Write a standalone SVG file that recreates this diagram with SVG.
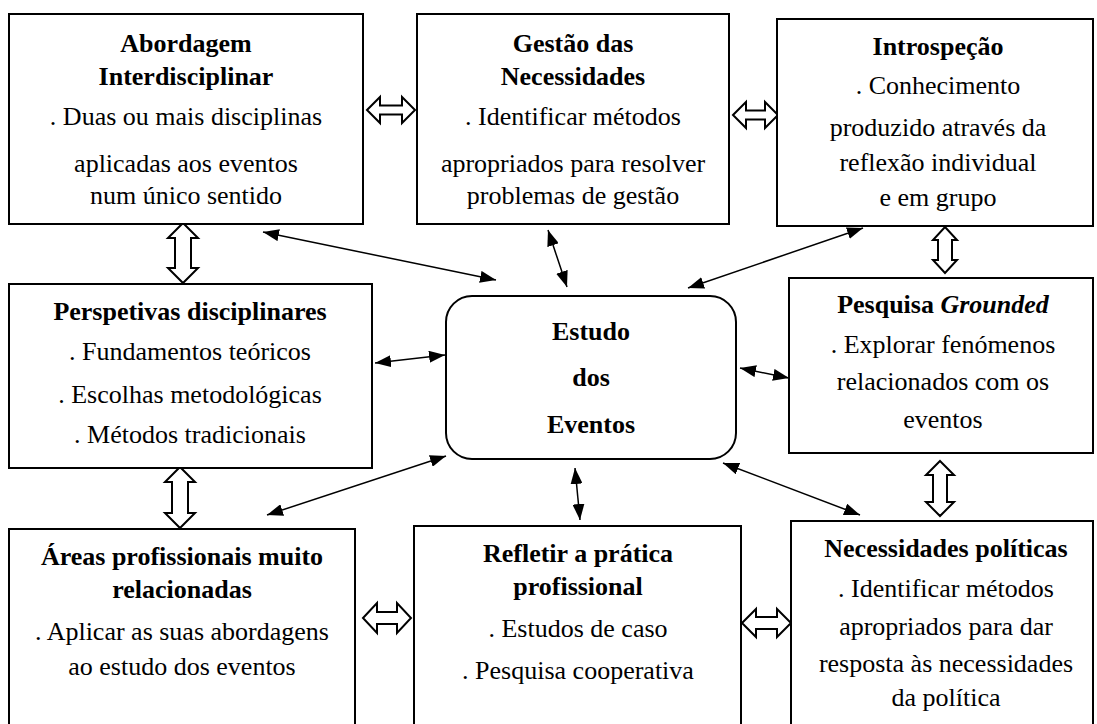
<svg xmlns="http://www.w3.org/2000/svg" width="1097" height="724" viewBox="0 0 1097 724">
<defs>
<style>
.box{fill:#fff;stroke:#000;stroke-width:2}
.blk{fill:#fff;stroke:#000;stroke-width:2;stroke-linejoin:miter}
.ln{stroke:#000;stroke-width:1.5;fill:none;marker-start:url(#ah);marker-end:url(#ah)}
</style>
<marker id="ah" viewBox="0 0 16 12" refX="16" refY="6" markerWidth="16" markerHeight="12" markerUnits="userSpaceOnUse" orient="auto-start-reverse">
<path d="M0,0 L16,6 L0,12 Z" fill="#000"/>
</marker>
</defs>
<rect width="1097" height="724" fill="#fff"/>

<g id="connectors">
<line class="ln" x1="263" y1="232" x2="496" y2="280"/>
<line class="ln" x1="548" y1="230" x2="567" y2="287"/>
<line class="ln" x1="863" y1="228" x2="688" y2="288"/>
<line class="ln" x1="375" y1="363" x2="445" y2="355"/>
<line class="ln" x1="740" y1="368" x2="789" y2="378"/>
<line class="ln" x1="267" y1="515" x2="446" y2="456"/>
<line class="ln" x1="575" y1="468" x2="580" y2="520"/>
<line class="ln" x1="723" y1="463" x2="860" y2="515"/>
<path class="blk" d="M367,110 L380,97 L380,105.5 L402,105.5 L402,97 L415,110 L402,123 L402,114.5 L380,114.5 L380,123 Z"/>
<path class="blk" d="M733,115 L746,102 L746,110.5 L765,110.5 L765,102 L778,115 L765,128 L765,119.5 L746,119.5 L746,128 Z"/>
<path class="blk" d="M363,618 L377,603 L377,612 L397,612 L397,603 L411,618 L397,633 L397,624 L377,624 L377,633 Z"/>
<path class="blk" d="M742,623 L756,609 L756,617 L777,617 L777,609 L791,623 L777,637 L777,629 L756,629 L756,637 Z"/>
<path class="blk" d="M183,223 L198,238 L191,238 L191,268 L198,268 L183,283 L168,268 L175,268 L175,238 L168,238 Z"/>
<path class="blk" d="M945,227 L957,240 L952,240 L952,260 L957,260 L945,273 L933,260 L938,260 L938,240 L933,240 Z"/>
<path class="blk" d="M180,467 L195,482 L188,482 L188,513 L195,513 L180,528 L165,513 L172,513 L172,482 L165,482 Z"/>
<path class="blk" d="M940,461 L954,475 L947,475 L947,502 L954,502 L940,516 L926,502 L933,502 L933,475 L926,475 Z"/>
</g>

<g id="n1">
<rect class="box" x="9" y="14" width="354" height="210"/>
<text font-family="Liberation Serif" font-size="26" text-anchor="middle" font-weight="bold" x="186" y="52">Abordagem</text>
<text font-family="Liberation Serif" font-size="26" text-anchor="middle" font-weight="bold" x="186" y="85">Interdisciplinar</text>
<text font-family="Liberation Serif" font-size="26" text-anchor="middle" x="186" y="125">. Duas ou mais disciplinas</text>
<text font-family="Liberation Serif" font-size="26" text-anchor="middle" x="186" y="172">aplicadas aos eventos</text>
<text font-family="Liberation Serif" font-size="26" text-anchor="middle" x="186" y="204">num único sentido</text>
</g>

<g id="n2">
<rect class="box" x="417" y="14" width="312" height="210"/>
<text font-family="Liberation Serif" font-size="26" text-anchor="middle" font-weight="bold" x="573" y="52">Gestão das</text>
<text font-family="Liberation Serif" font-size="26" text-anchor="middle" font-weight="bold" x="573" y="85">Necessidades</text>
<text font-family="Liberation Serif" font-size="26" text-anchor="middle" x="573" y="125">. Identificar métodos</text>
<text font-family="Liberation Serif" font-size="26" text-anchor="middle" x="573" y="172">apropriados para resolver</text>
<text font-family="Liberation Serif" font-size="26" text-anchor="middle" x="573" y="204">problemas de gestão</text>
</g>

<g id="n3">
<rect class="box" x="777" y="19" width="316" height="207"/>
<text font-family="Liberation Serif" font-size="26" text-anchor="middle" font-weight="bold" x="938" y="55">Introspeção</text>
<text font-family="Liberation Serif" font-size="26" text-anchor="middle" x="938" y="94">. Conhecimento</text>
<text font-family="Liberation Serif" font-size="26" text-anchor="middle" x="938" y="136">produzido através da</text>
<text font-family="Liberation Serif" font-size="26" text-anchor="middle" x="938" y="171">reflexão individual</text>
<text font-family="Liberation Serif" font-size="26" text-anchor="middle" x="938" y="206">e em grupo</text>
</g>

<g id="n4">
<rect class="box" x="9" y="284" width="363" height="184"/>
<text font-family="Liberation Serif" font-size="26" text-anchor="middle" font-weight="bold" x="190" y="320">Perspetivas disciplinares</text>
<text font-family="Liberation Serif" font-size="26" text-anchor="middle" x="190" y="360">. Fundamentos teóricos</text>
<text font-family="Liberation Serif" font-size="26" text-anchor="middle" x="190" y="403">. Escolhas metodológicas</text>
<text font-family="Liberation Serif" font-size="26" text-anchor="middle" x="190" y="443">. Métodos tradicionais</text>
</g>

<g id="n5">
<rect class="box" x="446" y="296" width="290" height="163" rx="26"/>
<text font-family="Liberation Serif" font-size="26" text-anchor="middle" font-weight="bold" x="591" y="340">Estudo</text>
<text font-family="Liberation Serif" font-size="26" text-anchor="middle" font-weight="bold" x="591" y="386">dos</text>
<text font-family="Liberation Serif" font-size="26" text-anchor="middle" font-weight="bold" x="591" y="433">Eventos</text>
</g>

<g id="n6">
<rect class="box" x="789" y="278" width="304" height="175"/>
<text font-family="Liberation Serif" font-size="26" text-anchor="middle" font-weight="bold" x="943" y="313">Pesquisa <tspan font-style="italic">Grounded</tspan></text>
<text font-family="Liberation Serif" font-size="26" text-anchor="middle" x="943" y="353">. Explorar fenómenos</text>
<text font-family="Liberation Serif" font-size="26" text-anchor="middle" x="943" y="390">relacionados com os</text>
<text font-family="Liberation Serif" font-size="26" text-anchor="middle" x="943" y="428">eventos</text>
</g>

<g id="n7">
<rect class="box" x="9" y="529" width="346" height="210"/>
<text font-family="Liberation Serif" font-size="26" text-anchor="middle" font-weight="bold" x="182" y="565">Áreas profissionais muito</text>
<text font-family="Liberation Serif" font-size="26" text-anchor="middle" font-weight="bold" x="182" y="598">relacionadas</text>
<text font-family="Liberation Serif" font-size="26" text-anchor="middle" x="182" y="640">. Aplicar as suas abordagens</text>
<text font-family="Liberation Serif" font-size="26" text-anchor="middle" x="182" y="675">ao estudo dos eventos</text>
</g>

<g id="n8">
<rect class="box" x="414" y="526" width="327" height="210"/>
<text font-family="Liberation Serif" font-size="26" text-anchor="middle" font-weight="bold" x="578" y="562">Refletir a prática</text>
<text font-family="Liberation Serif" font-size="26" text-anchor="middle" font-weight="bold" x="578" y="595">profissional</text>
<text font-family="Liberation Serif" font-size="26" text-anchor="middle" x="578" y="637">. Estudos de caso</text>
<text font-family="Liberation Serif" font-size="26" text-anchor="middle" x="578" y="679">. Pesquisa cooperativa</text>
</g>

<g id="n9">
<rect class="box" x="791" y="521" width="302" height="215"/>
<text font-family="Liberation Serif" font-size="26" text-anchor="middle" font-weight="bold" x="946" y="557">Necessidades políticas</text>
<text font-family="Liberation Serif" font-size="26" text-anchor="middle" x="946" y="597">. Identificar métodos</text>
<text font-family="Liberation Serif" font-size="26" text-anchor="middle" x="946" y="635">apropriados para dar</text>
<text font-family="Liberation Serif" font-size="26" text-anchor="middle" x="946" y="672">resposta às necessidades</text>
<text font-family="Liberation Serif" font-size="26" text-anchor="middle" x="946" y="706">da política</text>
</g>
</svg>
